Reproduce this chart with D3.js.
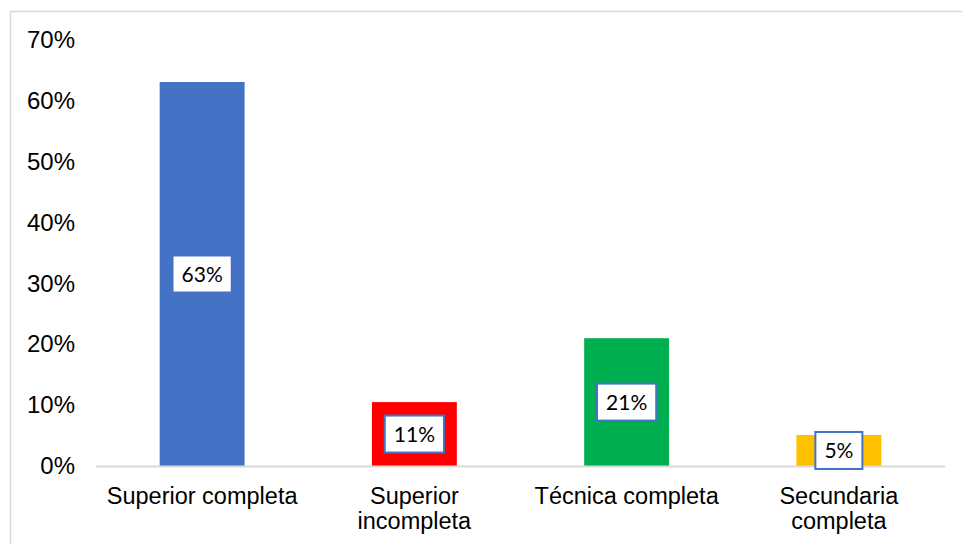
<!DOCTYPE html>
<html>
<head>
<meta charset="utf-8">
<script src="https://cdn.jsdelivr.net/npm/d3@7"></script>
<style>
  body { margin: 0; background: #fff; }
  svg { display: block; }
</style>
</head>
<body>
<div class="container"></div>
<script>
// datos del grafico
var categories = ['Superior completa', 'Superior incompleta', 'Técnica completa', 'Secundaria completa']
var values = [0.631, 0.105, 0.21, 0.051]
var valueLabels = ['63%', '11%', '21%', '5%']
var colors = ['#4472C4', '#FF0000', '#00B050', '#FFC000']
var yTicks = [0, 0.1, 0.2, 0.3, 0.4, 0.5, 0.6, 0.7]

var opts = {
  width: 962,
  height: 544,
  left: 96,
  right: 945,
  top: 40,
  bottom: 466
}

var svg = d3.select('.container').append('svg')
  .attr('width', opts.width)
  .attr('height', opts.height)

// marco del grafico
svg.append('rect')
  .attr('x', 10.5).attr('y', 11.5)
  .attr('width', 1000).attr('height', 600)
  .attr('fill', 'none')
  .attr('stroke', '#d9d9d9')
  .attr('stroke-width', 1.5)

var x = d3.scaleBand()
  .domain(categories)
  .range([opts.left, opts.right])
  .paddingInner(0.6)
  .paddingOuter(0.3)

var y = d3.scaleLinear()
  .domain([0, 0.7])
  .range([opts.bottom, opts.top])

// eje y (solo etiquetas)
var yAxis = svg.append('g')
  .attr('transform', 'translate(' + 75 + ',0)')
  .call(d3.axisLeft(y).tickValues(yTicks).tickFormat(d3.format('.0%')).tickSize(0).tickPadding(0))
yAxis.select('.domain').remove()
yAxis.selectAll('text')
  .attr('font-family', '"Liberation Sans", Arial, sans-serif')
  .attr('font-size', 24)
  .attr('fill', '#000')

// barras
svg.selectAll('rect.bar').data(values).enter().append('rect')
  .attr('class', 'bar')
  .attr('x', function (d, i) { return x(categories[i]) })
  .attr('y', function (d) { return y(d) })
  .attr('width', x.bandwidth())
  .attr('height', function (d) { return y(0) - y(d) })
  .attr('fill', function (d, i) { return colors[i] })

// linea base
svg.append('line')
  .attr('x1', opts.left).attr('x2', opts.right)
  .attr('y1', y(0) + 0.5).attr('y2', y(0) + 0.5)
  .attr('stroke', '#d9d9d9')
  .attr('stroke-width', 2)

// etiquetas de datos
var labels = svg.selectAll('g.lbl').data(values).enter().append('g')
  .attr('class', 'lbl')
  .attr('transform', function (d, i) {
    return 'translate(' + (x(categories[i]) + x.bandwidth() / 2) + ',' + ((y(d) + y(0)) / 2) + ')'
  })
labels.append('rect')
labels.append('text')
  .attr('text-anchor', 'middle')
  .attr('dy', '0.36em')
  .attr('font-family', 'Lato, "Open Sans", sans-serif')
  .attr('font-size', 21)
  .attr('fill', '#000')
  .text(function (d, i) { return valueLabels[i] })
labels.each(function () {
  var g = d3.select(this)
  var w = g.select('text').node().getBBox().width + 18
  g.select('rect')
    .attr('x', -w / 2).attr('y', -18.5)
    .attr('width', w).attr('height', 37)
    .attr('fill', '#fff')
    .attr('stroke', '#4472C4')
    .attr('stroke-width', 2)
})

// etiquetas de categorias, con ajuste de linea
var catText = svg.selectAll('text.cat').data(categories).enter().append('text')
  .attr('class', 'cat')
  .attr('x', function (d) { return x(d) + x.bandwidth() / 2 })
  .attr('y', 504)
  .attr('text-anchor', 'middle')
  .attr('font-family', '"Liberation Sans", Arial, sans-serif')
  .attr('font-size', 23.5)
  .attr('fill', '#000')

catText.each(function (d) {
  var t = d3.select(this)
  var words = d.split(' ')
  var line = []
  var lines = []
  var probe = t.append('tspan')
  words.forEach(function (w) {
    line.push(w)
    probe.text(line.join(' '))
    if (probe.node().getComputedTextLength() > 205 && line.length > 1) {
      line.pop()
      lines.push(line.join(' '))
      line = [w]
    }
  })
  lines.push(line.join(' '))
  probe.remove()
  lines.forEach(function (l, i) {
    t.append('tspan')
      .attr('x', t.attr('x'))
      .attr('dy', i === 0 ? 0 : 25)
      .text(l)
  })
})
</script>
</body>
</html>
